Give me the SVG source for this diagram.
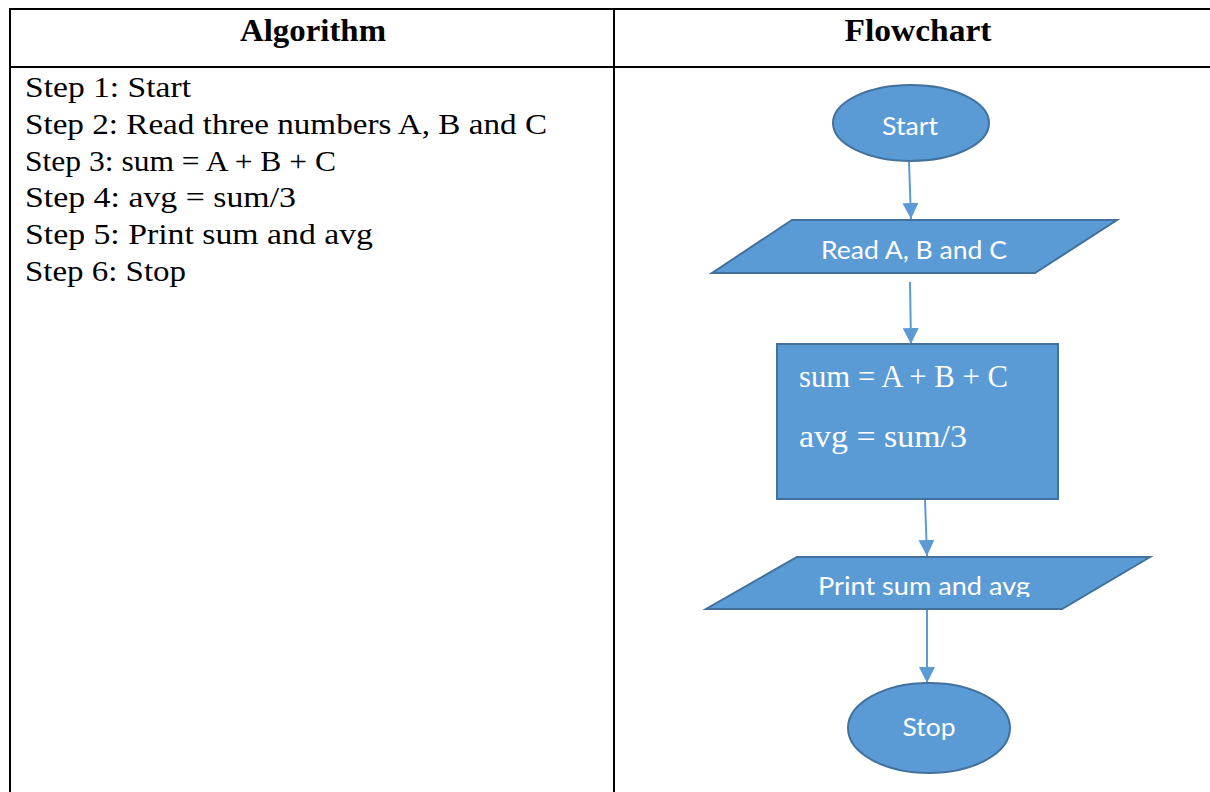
<svg xmlns="http://www.w3.org/2000/svg" width="1210" height="792" viewBox="0 0 1210 792">
<style>
.grid{stroke:#000;stroke-width:2;fill:none}
.hdr{font-family:"Liberation Serif","DejaVu Serif",serif;font-weight:bold;font-size:31px;fill:#000;text-anchor:middle}
.step{font-family:"Liberation Serif","DejaVu Serif",serif;font-size:29px;fill:#000}
.shape{fill:#5B9BD5;stroke:#41719C;stroke-width:2}
.lbl{font-family:Lato,"Open Sans",sans-serif;font-size:25px;fill:#fff;text-anchor:middle}
.slbl{font-family:"Liberation Serif","DejaVu Serif",serif;font-size:31px;fill:#fff}
.conn{stroke:#5B9BD5;stroke-width:2;fill:none}
</style>
<defs>
<marker id="ah" viewBox="0 0 16 16" refX="16" refY="8" markerWidth="16" markerHeight="16" orient="auto" markerUnits="userSpaceOnUse">
<path d="M0,0 L16,8 L0,16 Z" fill="#5B9BD5"/>
</marker>
<clipPath id="pclip"><rect x="700" y="557" width="460" height="40"/></clipPath>
</defs>
<rect width="1210" height="792" fill="#fff"/>
<g id="table">
<line class="grid" x1="9" y1="9" x2="1212" y2="9"/>
<line class="grid" x1="10" y1="8" x2="10" y2="794"/>
<line class="grid" x1="9" y1="67" x2="1212" y2="67"/>
<line class="grid" x1="614" y1="8" x2="614" y2="794"/>
<text class="hdr" x="313" y="41" textLength="146" lengthAdjust="spacingAndGlyphs">Algorithm</text>
<text class="hdr" x="918" y="41" textLength="147" lengthAdjust="spacingAndGlyphs">Flowchart</text>
</g>
<g id="steps">
<text class="step" x="25" y="97" textLength="166" lengthAdjust="spacingAndGlyphs">Step 1: Start</text>
<text class="step" x="25" y="134" textLength="522" lengthAdjust="spacingAndGlyphs">Step 2: Read three numbers A, B and C</text>
<text class="step" x="25" y="171" textLength="311" lengthAdjust="spacingAndGlyphs">Step 3: sum = A + B + C</text>
<text class="step" x="25" y="207" textLength="271" lengthAdjust="spacingAndGlyphs">Step 4: avg = sum/3</text>
<text class="step" x="25" y="244" textLength="348" lengthAdjust="spacingAndGlyphs">Step 5: Print sum and avg</text>
<text class="step" x="25" y="281" textLength="161" lengthAdjust="spacingAndGlyphs">Step 6: Stop</text>
</g>
<g id="connectors">
<line class="conn" x1="909" y1="162" x2="911" y2="219" marker-end="url(#ah)"/>
<line class="conn" x1="910" y1="282" x2="911" y2="344" marker-end="url(#ah)"/>
<line class="conn" x1="925" y1="500" x2="927" y2="556" marker-end="url(#ah)"/>
<line class="conn" x1="927" y1="610" x2="927" y2="683" marker-end="url(#ah)"/>
</g>
<g id="start">
<ellipse class="shape" cx="911" cy="123" rx="78" ry="38"/>
<text class="lbl" x="910" y="135" textLength="56" lengthAdjust="spacingAndGlyphs">Start</text>
</g>
<g id="read">
<polygon class="shape" points="792,220 1117,220 1035,273 712,273"/>
<text class="lbl" x="914" y="259" textLength="186" lengthAdjust="spacingAndGlyphs">Read A, B and C</text>
</g>
<g id="process">
<rect class="shape" x="777" y="344" width="281" height="155"/>
<text class="slbl" x="799" y="387" textLength="209" lengthAdjust="spacingAndGlyphs">sum = A + B + C</text>
<text class="slbl" x="799" y="447" textLength="168" lengthAdjust="spacingAndGlyphs">avg = sum/3</text>
</g>
<g id="print">
<polygon class="shape" points="797,557 1150,557 1062,609 706,609"/>
<text class="lbl" x="924" y="595" clip-path="url(#pclip)" textLength="212" lengthAdjust="spacingAndGlyphs">Print sum and avg</text>
</g>
<g id="stop">
<ellipse class="shape" cx="929" cy="728" rx="81" ry="45"/>
<text class="lbl" x="929" y="736" textLength="53" lengthAdjust="spacingAndGlyphs">Stop</text>
</g>
</svg>
